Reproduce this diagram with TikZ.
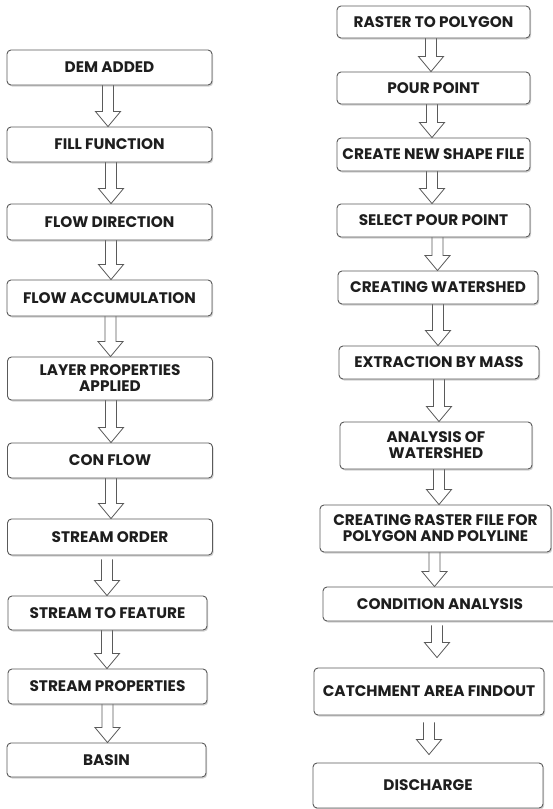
\documentclass[tikz,border=0pt]{standalone}
\usepackage{fontspec}
\setmainfont{Poppins}
\usetikzlibrary{calc,shadows}
\definecolor{boxline}{HTML}{5A5A5A}
\definecolor{txt}{HTML}{1E1E1E}
\pgfdeclarelayer{bg}
\pgfsetlayers{bg,main}
\tikzset{
  stepbox/.style={draw=boxline, line width=0.9pt, rounded corners=4pt, fill=white,
    drop shadow={shadow xshift=1.2pt, shadow yshift=-1.5pt, opacity=0.35, fill=gray},
    align=center, inner sep=1pt, text=txt,
    font=\fontsize{15.3}{16}\selectfont\bfseries},
  arr/.style={draw=boxline, line width=0.8pt, fill=white, line join=miter}
}
% #1 x-shift, #2 from node, #3 to node, #4 gap below source, #5 gap above target
\newcommand\flowarrow[5]{%
  \draw[arr] let \p1=($(#2.south)+(#1,-#4)$), \p2=($(#3.north)+(#1,#5)$) in
    (\x1-5.5pt,\y1) -- (\x1-5.5pt,\y2+15pt) -- (\x1-12.5pt,\y2+15pt) -- (\x1,\y2)
    -- (\x1+12.5pt,\y2+15pt) -- (\x1+5.5pt,\y2+15pt) -- (\x1+5.5pt,\y1);
}
\begin{document}
\begin{tikzpicture}[x=1pt,y=1pt]
\useasboundingbox (0,0) rectangle (552,-809);
% left column
\node[stepbox, minimum width=205pt, minimum height=35pt] (dem)    at (109.5,-67.5) {DEM ADDED};
\node[stepbox, minimum width=205pt, minimum height=35pt] (fill)   at (109.5,-144.5) {FILL FUNCTION};
\node[stepbox, minimum width=205pt, minimum height=36pt] (fdir)   at (109.5,-222) {FLOW DIRECTION};
\node[stepbox, minimum width=205pt, minimum height=36pt] (facc)   at (109.5,-298) {FLOW ACCUMULATION};
\node[stepbox, minimum width=205pt, minimum height=43pt] (layer)  at (110,-378.5) {LAYER PROPERTIES\\APPLIED};
\node[stepbox, minimum width=205pt, minimum height=35pt] (con)    at (110,-460.5) {CON FLOW};
\node[stepbox, minimum width=205pt, minimum height=36pt] (order)  at (110,-537) {STREAM ORDER};
\node[stepbox, minimum width=199pt, minimum height=34pt] (tofeat) at (107.5,-613) {STREAM TO FEATURE};
\node[stepbox, minimum width=199pt, minimum height=35pt] (props)  at (107.5,-686.5) {STREAM PROPERTIES};
\node[stepbox, minimum width=199pt, minimum height=34pt] (basin)  at (106.5,-760) {BASIN};
% right column
\node[stepbox, minimum width=193pt, minimum height=32pt] (r2p)    at (433.5,-22) {RASTER TO POLYGON};
\node[stepbox, minimum width=193pt, minimum height=32pt] (pour)   at (433.5,-88) {POUR POINT};
\node[stepbox, minimum width=193pt, minimum height=33pt] (shape)  at (433.5,-154.5) {CREATE NEW SHAPE FILE};
\node[stepbox, minimum width=193pt, minimum height=33pt] (select) at (433.5,-220.5) {SELECT POUR POINT};
\node[stepbox, minimum width=200pt, minimum height=33pt] (cws)    at (438,-287.5) {CREATING WATERSHED};
\node[stepbox, minimum width=200pt, minimum height=33pt] (extr)   at (439,-362.5) {EXTRACTION BY MASS};
\node[stepbox, minimum width=192pt, minimum height=47pt] (anal)   at (436,-445.5) {ANALYSIS OF\\WATERSHED};
\node[stepbox, minimum width=231pt, minimum height=47pt] (rastf)  at (435.5,-528.5) {CREATING RASTER FILE FOR\\POLYGON AND POLYLINE};
\node[stepbox, minimum width=234pt, minimum height=34pt] (cond)   at (440,-604) {CONDITION ANALYSIS};
\node[stepbox, minimum width=230pt, minimum height=47pt] (catch)  at (429,-691.5) {CATCHMENT AREA FINDOUT};
\node[stepbox, minimum width=230pt, minimum height=45pt] (dis)    at (428,-785.5) {DISCHARGE};
\begin{pgfonlayer}{bg}
\fill[white] (0,0) rectangle (552,-809);
% arrows left
\flowarrow{-1.5pt}{dem}{fill}{-1pt}{0pt}
\flowarrow{1.5pt}{fill}{fdir}{-1pt}{0pt}
\flowarrow{1.5pt}{fdir}{facc}{-1pt}{0pt}
\flowarrow{1pt}{facc}{layer}{-1pt}{0pt}
\flowarrow{1pt}{layer}{con}{-1pt}{0pt}
\flowarrow{1pt}{con}{order}{-1pt}{0pt}
\flowarrow{-3pt}{order}{tofeat}{4pt}{0pt}
\flowarrow{-0.5pt}{tofeat}{props}{-1pt}{0pt}
\flowarrow{0pt}{props}{basin}{-1pt}{0pt}
% arrows right
\flowarrow{-2.5pt}{r2p}{pour}{-1pt}{0pt}
\flowarrow{-1.5pt}{pour}{shape}{-1pt}{0pt}
\flowarrow{-1.5pt}{shape}{select}{-1pt}{0pt}
\flowarrow{4pt}{select}{cws}{-1pt}{0pt}
\flowarrow{0pt}{cws}{extr}{-1pt}{0pt}
\flowarrow{0pt}{extr}{anal}{-1pt}{0pt}
\flowarrow{3pt}{anal}{rastf}{-1pt}{0pt}
\flowarrow{-1pt}{rastf}{cond}{-1pt}{0pt}
\flowarrow{-3pt}{cond}{catch}{4pt}{10pt}
\flowarrow{0pt}{catch}{dis}{7pt}{8pt}
\end{pgfonlayer}
\end{tikzpicture}
\end{document}
